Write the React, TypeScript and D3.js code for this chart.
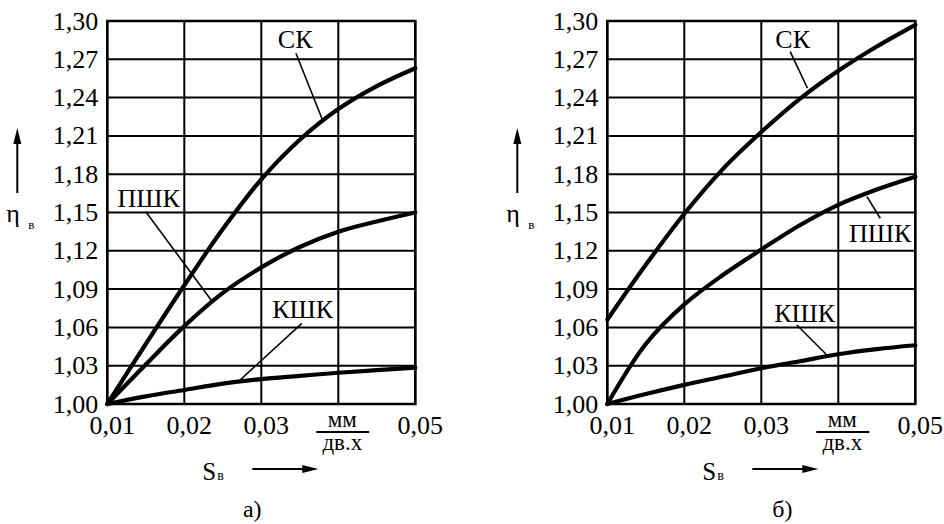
import React from 'react';
import * as d3 from 'd3';

// feed per double stroke, mm/дв.х
const feeds = [0.01, 0.015, 0.02, 0.025, 0.03, 0.035, 0.04, 0.045, 0.05];

// panel а)
const skA = [1.0, 1.047, 1.093, 1.137, 1.176, 1.207, 1.231, 1.249, 1.263];
const pshkA = [1.0, 1.031, 1.061, 1.087, 1.107, 1.123, 1.135, 1.143, 1.15];
const kshkA = [1.0, 1.006, 1.011, 1.016, 1.0195, 1.022, 1.0245, 1.0265, 1.0285];

// panel б)
const skB = [1.066, 1.109, 1.149, 1.184, 1.213, 1.239, 1.261, 1.28, 1.297];
const pshkB = [1.0, 1.047, 1.078, 1.101, 1.121, 1.14, 1.156, 1.168, 1.178];
const kshkB = [1.0, 1.0078, 1.015, 1.0215, 1.028, 1.0335, 1.039, 1.043, 1.046];

const yTicks = [1.0, 1.03, 1.06, 1.09, 1.12, 1.15, 1.18, 1.21, 1.24, 1.27, 1.3];
const xGrid = [0.01, 0.02, 0.03, 0.04, 0.05];
const xTickLabels = [0.01, 0.02, 0.03, 0.05];

// callouts: label position and leader line in data units
const notesA = [
  { text: 'СК', tx: 0.0344, ty: 1.279, x1: 0.0345, y1: 1.2747, x2: 0.038, y2: 1.2217 },
  { text: 'ПШК', tx: 0.01536, ty: 1.1543, x1: 0.015, y1: 1.1506, x2: 0.02348, y2: 1.0815 },
  { text: 'КШК', tx: 0.03537, ty: 1.0674, x1: 0.03527, y1: 1.0632, x2: 0.02725, y2: 1.0188 },
];
const notesB = [
  { text: 'СК', tx: 0.03408, ty: 1.279, x1: 0.03375, y1: 1.276, x2: 0.036, y2: 1.2473 },
  { text: 'ПШК', tx: 0.04545, ty: 1.1269, x1: 0.04545, y1: 1.1455, x2: 0.04372, y2: 1.1624 },
  { text: 'КШК', tx: 0.03563, ty: 1.0642, x1: 0.03462, y1: 1.0619, x2: 0.03852, y2: 1.0384 },
];

const F = 'Liberation Serif';
const fmt = (v: number) => v.toFixed(2).replace('.', ',');

type Note = { text: string; tx: number; ty: number; x1: number; y1: number; x2: number; y2: number };

const Panel = ({ left, series, notes, caption }: { left: number; series: number[][]; notes: Note[]; caption: string }) => {
  const x = d3.scaleLinear().domain([0.01, 0.05]).range([left, left + 308]);
  const y = d3.scaleLinear().domain([1.0, 1.3]).range([404, 21]);
  const line = d3.line<number>()
    .x((_, i) => x(feeds[i]))
    .y(d => y(d))
    .curve(d3.curveCatmullRom.alpha(0.5));
  const unitX = x(0.04) + 4;
  const sX = x(0.03) - 59;

  return (
    <g>
      {/* grid */}
      {yTicks.map(t => (
        <line key={'h' + t} x1={x(0.01)} x2={x(0.05)} y1={y(t)} y2={y(t)} stroke="#000" strokeWidth={2} />
      ))}
      {xGrid.map(t => (
        <line key={'v' + t} x1={x(t)} x2={x(t)} y1={y(1.0)} y2={y(1.3)} stroke="#000" strokeWidth={2} />
      ))}
      <rect x={x(0.01)} y={y(1.3)} width={x(0.05) - x(0.01)} height={y(1.0) - y(1.3)} fill="none" stroke="#000" strokeWidth={2.5} />

      {/* curves */}
      {series.map((s, i) => (
        <path key={'c' + i} d={line(s) || ''} fill="none" stroke="#000" strokeWidth={4.2} strokeLinecap="round" />
      ))}

      {/* callouts */}
      {notes.map(n => (
        <g key={n.text}>
          <line x1={x(n.x1)} y1={y(n.y1)} x2={x(n.x2)} y2={y(n.y2)} stroke="#000" strokeWidth={1.6} />
          <text fontFamily={F} x={x(n.tx)} y={y(n.ty)} fontSize={26} textAnchor="middle">{n.text}</text>
        </g>
      ))}

      {/* y tick labels */}
      {yTicks.map(t => (
        <text fontFamily={F} key={'yl' + t} x={x(0.01) - 9} y={y(t) + 8.5} fontSize={26} textAnchor="end">{fmt(t)}</text>
      ))}
      {/* x tick labels */}
      {xTickLabels.map(t => (
        <text fontFamily={F} key={'xl' + t} x={x(t) + 5} y={434} fontSize={26} textAnchor="middle">{fmt(t)}</text>
      ))}

      {/* unit fraction */}
      <text fontFamily={F} x={unitX} y={427} fontSize={23} textAnchor="middle">мм</text>
      <line x1={unitX - 26} x2={unitX + 27} y1={432} y2={432} stroke="#000" strokeWidth={1.8} />
      <text fontFamily={F} x={unitX} y={450} fontSize={23} textAnchor="middle">дв.х</text>

      {/* x axis title */}
      <text fontFamily={F} x={sX} y={480} fontSize={25}>S</text>
      <text fontFamily={F} x={sX + 15} y={480} fontSize={14}>в</text>
      <line x1={sX + 50} x2={sX + 104} y1={469} y2={469} stroke="#000" strokeWidth={2} />
      <path d={`M${sX + 116},469 L${sX + 100},465 L${sX + 100},473 Z`} />

      {/* y axis title */}
      <line x1={left - 90} x2={left - 90} y1={193} y2={140} stroke="#000" strokeWidth={2} />
      <path d={`M${left - 90},128 L${left - 94},144 L${left - 86},144 Z`} />
      <text fontFamily={F} x={left - 101} y={222} fontSize={26}>η</text>
      <text fontFamily={F} x={left - 79} y={229} fontSize={13}>в</text>

      {/* caption */}
      <text fontFamily={F} x={left + (caption === 'а)' ? 145 : 175)} y={517} fontSize={24} textAnchor="middle">{caption}</text>
    </g>
  );
};

export default function App() {
  return (
    <svg width={944} height={524} style={{ position: 'absolute', left: 0, top: 0 }}>
      <Panel left={107.3} series={[skA, pshkA, kshkA]} notes={notesA} caption="а)" />
      <Panel left={607.3} series={[skB, pshkB, kshkB]} notes={notesB} caption="б)" />
    </svg>
  );
}
